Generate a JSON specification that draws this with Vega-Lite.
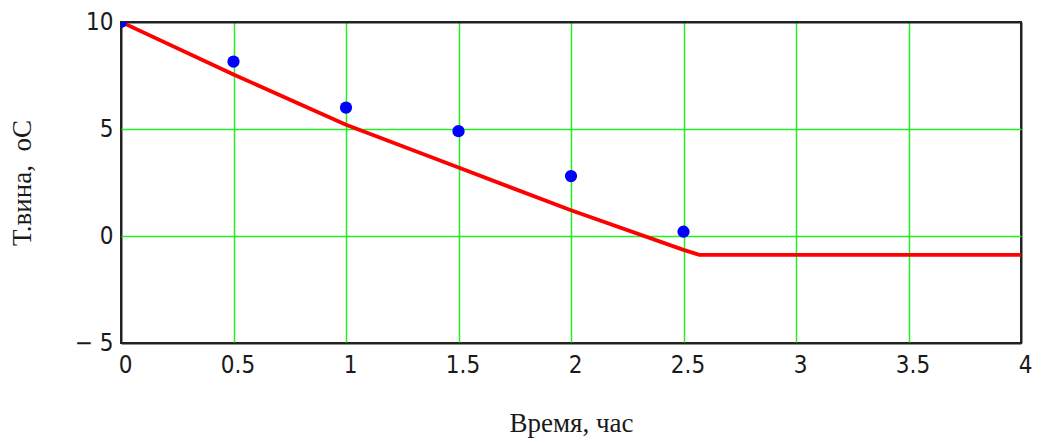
{
  "$schema": "https://vega.github.io/schema/vega-lite/v6.json",
  "width": 900,
  "height": 321,
  "autosize": {"type": "none"},
  "padding": {"left": 121, "top": 22, "right": 21, "bottom": 100},
  "background": "white",
  "config": {
    "view": {"stroke": "#222222", "strokeWidth": 2},
    "axis": {"gridOpacity": 1, "domain": false, "ticks": false,
             "labelFont": "DejaVu Sans Condensed", "labelFontSize": 24, "labelColor": "#1a1a1a",
             "titleFont": "Liberation Serif", "titleFontSize": 27, "titleFontWeight": "normal", "titleColor": "#1a1a1a"}
  },
  "datasets": {
    "pts": [
      {"t": 0, "T": 10},
      {"t": 0.5, "T": 8.15},
      {"t": 1, "T": 6.0},
      {"t": 1.5, "T": 4.9},
      {"t": 2, "T": 2.8},
      {"t": 2.5, "T": 0.2}
    ],
    "line": [
      {"t": 0, "T": 10},
      {"t": 0.5, "T": 7.55},
      {"t": 1, "T": 5.2},
      {"t": 1.5, "T": 3.2},
      {"t": 2, "T": 1.2},
      {"t": 2.5, "T": -0.65},
      {"t": 2.57, "T": -0.88},
      {"t": 4, "T": -0.88}
    ]
  },
  "layer": [
    {
      "data": {"name": "line"},
      "mark": {"type": "line", "color": "#ff0000", "strokeWidth": 3.8, "clip": true},
      "encoding": {
        "x": {"field": "t", "type": "quantitative", "scale": {"domain": [0, 4], "nice": false},
              "axis": {"values": [0, 0.5, 1, 1.5, 2, 2.5, 3, 3.5, 4], "format": "~g", "title": "Время, час",
                       "labelPadding": 10, "labelOffset": 4, "titlePadding": 33, "labelFlush": false, "labelOverlap": false,
                       "gridColor": {"condition": {"test": "datum.value == 0 || datum.value == 4", "value": "#222222"}, "value": "#22ee22"},
                       "gridWidth": {"condition": {"test": "datum.value == 0 || datum.value == 4", "value": 2}, "value": 1.5}}},
        "y": {"field": "T", "type": "quantitative", "scale": {"domain": [-5, 10], "nice": false, "zero": false},
              "axis": {"values": [-5, 0, 5, 10], "title": "Т.вина,\u00a0\u00a0оС", "labelPadding": 8, "titlePadding": 38, "labelFlush": false,
                       "labelExpr": "datum.value < 0 ? '− ' + abs(datum.value) : datum.label",
                       "gridColor": {"condition": {"test": "datum.value == -5 || datum.value == 10", "value": "#222222"}, "value": "#22ee22"},
                       "gridWidth": {"condition": {"test": "datum.value == -5 || datum.value == 10", "value": 2}, "value": 1.5}}}
      }
    },
    {
      "data": {"name": "pts"},
      "mark": {"type": "point", "filled": true, "color": "#0000ff", "size": 150, "opacity": 1, "clip": true},
      "encoding": {
        "x": {"field": "t", "type": "quantitative"},
        "y": {"field": "T", "type": "quantitative"}
      }
    }
  ]
}
